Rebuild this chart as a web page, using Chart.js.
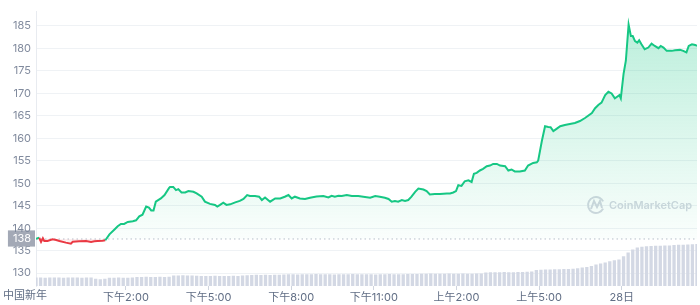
<!DOCTYPE html>
<html>
<head>
<meta charset="utf-8">
<script src="https://cdn.jsdelivr.net/npm/chart.js@4.4.1/dist/chart.umd.min.js"></script>
<style>
  html, body { margin: 0; padding: 0; background: #fff; }
  #wrap { width: 700px; height: 305px; position: relative; }
</style>
</head>
<body>
<div id="wrap"><canvas id="c"></canvas></div>
<script>
// ---- data (minutes since start of the 24h window) ----
const times = [0,7,11,15,18,25,36,44,51,65,76,80,94,109,120,127,134,145,151,160,171,178,185,192,200,211,218,225,232,240,246,251,256,261,272,280,290,292,299,305,310,317,325,332,343,350,361,368,379,390,395,401,408,415,423,434,444,452,460,466,477,486,492,499,510,521,532,542,550,557,564,575,586,597,611,626,637,644,651,659,666,677,688,702,713,728,739,749,760,768,775,782,789,797,804,811,818,826,833,844,851,858,869,880,895,902,909,915,920,927,934,942,949,954,960,967,974,982,989,996,1004,1011,1022,1029,1036,1043,1054,1065,1072,1083,1091,1094,1102,1109,1116,1121,1127,1134,1142,1152,1163,1174,1185,1196,1211,1218,1225,1232,1240,1247,1254,1261,1266,1271,1274,1280,1285,1291,1296,1300,1305,1310,1314,1319,1326,1334,1341,1348,1356,1361,1367,1374,1385,1392,1403,1410,1417,1422,1429,1436,1440];
const prices = [137.66,137.88,136.94,137.75,137.16,137.16,137.53,137.38,137.16,136.79,136.57,137.0,137.09,137.16,136.94,137.09,137.16,137.22,137.31,138.62,139.72,140.44,140.94,140.94,141.38,141.53,141.75,142.62,143.0,144.81,144.59,143.94,143.94,145.9,146.62,147.37,148.96,149.18,149.18,148.46,148.68,147.94,147.94,148.24,148.09,147.72,147.0,145.9,145.4,145.18,144.81,145.18,145.68,145.18,145.31,145.75,146.06,146.49,147.37,147.15,147.15,147.0,146.27,146.84,145.9,146.62,146.62,147.0,147.37,146.62,147.0,146.62,146.49,146.78,147.06,147.15,146.84,147.21,147.0,147.21,147.15,147.37,147.15,147.15,147.0,146.78,147.15,147.0,146.78,146.49,145.9,146.06,145.9,146.27,146.06,146.27,147.0,148.09,148.81,148.59,148.24,147.5,147.59,147.59,147.72,147.72,147.94,148.24,149.55,149.4,150.43,150.65,150.28,152.09,152.31,152.83,153.18,153.77,153.93,154.28,154.28,153.93,153.77,152.83,153.05,152.61,152.61,152.83,153.93,154.5,154.65,155.02,159.39,162.67,162.52,162.45,161.58,162.08,162.67,162.96,163.17,163.39,163.83,164.49,165.58,166.67,167.39,167.92,169.58,170.32,169.95,168.86,169.23,169.58,168.86,174.32,177.23,185.25,182.7,182.7,181.6,181.25,181.76,180.88,179.79,180.16,181.04,180.51,180.01,180.51,180.16,179.42,179.42,179.57,179.64,179.42,179.07,180.51,180.88,180.73,180.51];
// volume, one bar per 10 minutes
const volumes = [
  3.1,3.1,3.0,3.1,3.1,3.1,3.0,3.1,3.1,3.1,3.0,3.1,3.1,
  2.6,2.5,2.6,
  3.0,3.0,3.1,3.0,3.0,3.1,
  3.3,3.3,3.4,3.3,3.3,3.4,3.3,3.4,
  3.8,3.8,3.9,3.8,3.8,3.7,
  3.6,3.6,3.6,3.7,3.6,3.6,3.6,3.7,3.6,3.8,3.9,
  4.0,4.1,4.0,4.1,4.0,4.1,4.1,4.2,
  4.3,4.3,4.2,4.3,4.3,4.3,4.4,4.3,4.3,4.3,4.2,4.3,4.3,4.3,4.4,4.3,4.3,4.3,4.3,4.2,4.3,4.3,4.4,4.3,4.3,4.3,4.4,4.4,4.4,
  4.5,4.5,4.6,4.5,4.5,4.5,4.6,4.5,4.5,4.6,4.5,4.5,4.6,4.6,
  4.9,5.0,5.0,5.0,5.1,5.0,5.0,5.1,5.1,5.2,5.3,
  5.8,5.9,6.0,6.0,6.1,6.1,6.2,6.2,6.3,6.5,6.7,6.9,
  7.3,7.8,8.2,8.6,9.0,9.4,9.7,
  10.8,12.2,13.3,14.0,14.3,14.5,14.6,14.7,14.7,14.8,14.8,14.9,15.0,15.0,15.1,15.2,15.3
];
const volStep = 10;
const tickMinutes = [196,376,556,736,916,1096,1276];
const tickLabels = ['下午2:00','下午5:00','下午8:00','下午11:00','上午2:00','上午5:00','28日'];
const firstLabel = '中国新年';
const yTicks = [130,135,140,145,150,155,160,165,170,175,180,185];
const openPrice = 137.6;
const openLabel = '138';
const watermark = 'CoinMarketCap';

const GREEN = '#16c784', RED = '#ea3943';
const FONT = 'Inter, "Noto Sans CJK SC", sans-serif';

const linePts = times.map((t, i) => ({x: t, y: prices[i]}));
const volPts = volumes.map((v, i) => ({x: i * volStep, y: v}));
const basePts = [{x: 0, y: openPrice}, {x: 1440, y: openPrice}];

const overlay = {
  id: 'overlay',
  beforeDatasetsDraw(chart) {
    const ctx = chart.ctx;
    ctx.save();
    ctx.strokeStyle = '#d3d7e0';
    ctx.fillStyle = '#d3d7e0';
    ctx.lineWidth = 2;
    ctx.beginPath();
    ctx.arc(596, 205, 8, 0.15 * Math.PI, 1.85 * Math.PI, false);
    ctx.stroke();
    ctx.beginPath();
    ctx.moveTo(591, 209); ctx.lineTo(594, 201); ctx.lineTo(597, 207); ctx.lineTo(600, 201); ctx.lineTo(602, 208);
    ctx.stroke();
    ctx.font = '600 11px ' + FONT;
    ctx.textBaseline = 'middle';
    ctx.textAlign = 'left';
    ctx.fillText(watermark, 609, 205.5);
    ctx.restore();
  },
  afterDraw(chart) {
    const ctx = chart.ctx;
    ctx.save();
    ctx.font = '11px ' + FONT;
    ctx.fillStyle = '#616e85';
    ctx.textBaseline = 'middle';
    ctx.textAlign = 'left';
    ctx.fillText(firstLabel, 3, 296);
    ctx.restore();
  }
};

new Chart(document.getElementById('c'), {
  data: {
    datasets: [
      {
        type: 'bar',
        data: volPts,
        yAxisID: 'yVol',
        backgroundColor: '#d3d8e4',
        borderWidth: 0,
        barPercentage: 1,
        categoryPercentage: 0.72,
        order: 0
      },
      {
        type: 'line',
        data: basePts,
        yAxisID: 'y',
        borderColor: '#b9bfcb',
        borderWidth: 1,
        borderDash: [1.5, 3],
        pointRadius: 0,
        fill: false,
        order: 2
      },
      {
        type: 'line',
        data: linePts,
        yAxisID: 'y',
        borderWidth: 2,
        pointRadius: 0,
        tension: 0,
        borderColor: GREEN,
        segment: {
          borderColor: c => ((c.p0.parsed.y + c.p1.parsed.y) / 2 < openPrice ? RED : GREEN)
        },
        fill: {
          target: {value: openPrice},
          above: (c) => {
            const chart = c.chart, a = chart.chartArea;
            if (!a) return 'rgba(22,199,132,0.15)';
            const yb = chart.scales.y.getPixelForValue(openPrice);
            const g = chart.ctx.createLinearGradient(0, a.top, 0, yb);
            g.addColorStop(0, 'rgba(22,199,132,0.30)');
            g.addColorStop(1, 'rgba(22,199,132,0.02)');
            return g;
          },
          below: 'rgba(234,57,67,0.08)'
        },
        order: 1
      }
    ]
  },
  options: {
    responsive: true,
    maintainAspectRatio: false,
    animation: false,
    layout: {padding: {top: 7, right: 3, left: 0, bottom: 0}},
    plugins: {legend: {display: false}, tooltip: {enabled: false}},
    scales: {
      x: {
        type: 'linear',
        min: 0,
        max: 1440,
        offset: false,
        afterBuildTicks: s => { s.ticks = tickMinutes.map(v => ({value: v})); },
        afterFit: s => { s.height = 19; },
        grid: {offset: false, drawOnChartArea: false, drawTicks: true, tickLength: 4, color: '#cfd4de'},
        border: {display: false},
        ticks: {
          autoSkip: false,
          maxRotation: 0,
          padding: 1,
          color: '#616e85',
          font: {family: FONT, size: 11},
          callback: (v, i) => tickLabels[i]
        }
      },
      y: {
        type: 'linear',
        position: 'left',
        min: 127.15,
        max: 188.15,
        afterBuildTicks: s => {
          s.ticks = [...yTicks, openPrice].sort((a, b) => a - b).map(v => ({value: v}));
        },
        afterFit: s => { s.width = 36; },
        grid: {
          drawTicks: false,
          color: c => (c.tick && c.tick.value === openPrice ? 'rgba(0,0,0,0)' : '#eff2f5')
        },
        border: {color: '#e8ebf0'},
        ticks: {
          autoSkip: false,
          padding: 5,
          font: {family: FONT, size: 11},
          color: c => (c.tick && c.tick.value === openPrice ? '#ffffff' : '#808a9d'),
          showLabelBackdrop: c => (c.tick && c.tick.value === openPrice),
          backdropColor: '#a3a9b6',
          backdropPadding: {left: 5, right: 4, top: 2, bottom: 1},
          callback: v => (v === openPrice ? openLabel : v)
        }
      },
      yVol: {
        type: 'linear',
        display: false,
        min: 0,
        max: 100
      }
    }
  },
  plugins: [overlay]
});
</script>
</body>
</html>
